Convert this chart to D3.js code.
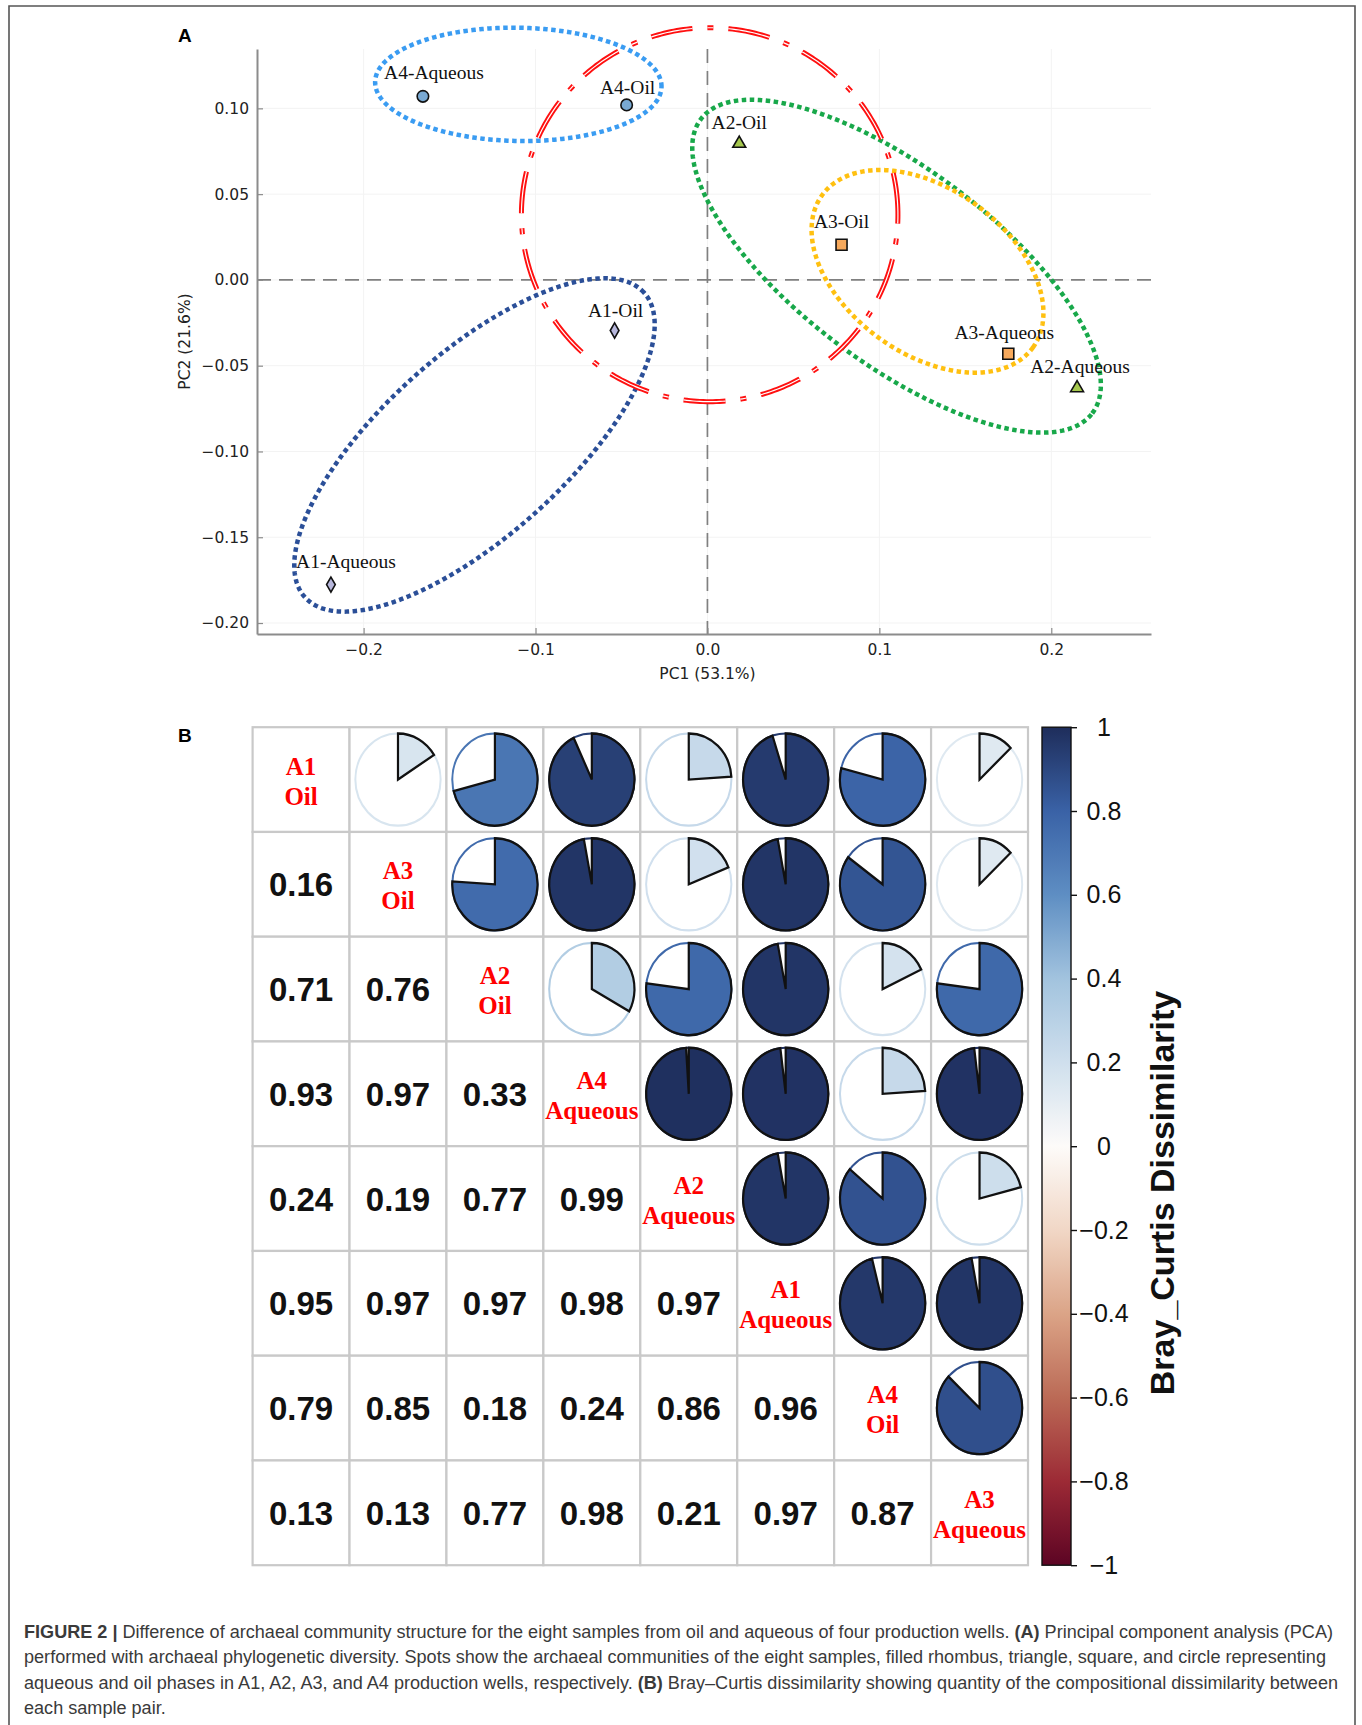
<!DOCTYPE html>
<html>
<head>
<meta charset="utf-8">
<script src="https://cdn.jsdelivr.net/npm/d3@7"></script>
<style>
  html, body { margin: 0; padding: 0; background: #fff; }
  svg { display: block; }
</style>
</head>
<body>
<svg id="fig" width="1362" height="1725"></svg>
<script>
// ---- panel A: PCA scores ----
const sampleNames = ["A1-Aqueous", "A1-Oil", "A2-Aqueous", "A2-Oil", "A3-Aqueous", "A3-Oil", "A4-Aqueous", "A4-Oil"];
const sampleWell  = ["A1", "A1", "A2", "A2", "A3", "A3", "A4", "A4"];
const pc1 = [-0.219, -0.054, 0.215, 0.0185, 0.175, 0.078, -0.1655, -0.047];
const pc2 = [-0.1776, -0.0295, -0.063, 0.0795, -0.043, 0.0205, 0.107, 0.102];

// confidence ellipses (data units, angle in degrees)
const ellipseGroup = ["A1", "A2", "A3", "A4", "Oil"];
const ellipseCx    = [-0.1355, 0.110, 0.128, -0.110, 0.0013];
const ellipseCy    = [-0.0962, 0.008, 0.005, 0.114, 0.038];
const ellipseA     = [0.1327, 0.1425, 0.0757, 0.0833, 0.1095];
const ellipseB     = [0.0531, 0.0568, 0.048, 0.0330, 0.1090];
const ellipseAngle = [42, -37, -36, -1, 0];

const xTicks = [-0.2, -0.1, 0.0, 0.1, 0.2];
const yTicks = [-0.20, -0.15, -0.10, -0.05, 0.00, 0.05, 0.10];

// ---- panel B: Bray-Curtis dissimilarity ----
const matrixTop    = ["A1", "A3", "A2", "A4", "A2", "A1", "A4", "A3"];
const matrixBottom = ["Oil", "Oil", "Oil", "Aqueous", "Aqueous", "Aqueous", "Oil", "Aqueous"];
const brayCurtis = [
  [],
  [0.16],
  [0.71, 0.76],
  [0.93, 0.97, 0.33],
  [0.24, 0.19, 0.77, 0.99],
  [0.95, 0.97, 0.97, 0.98, 0.97],
  [0.79, 0.85, 0.18, 0.24, 0.86, 0.96],
  [0.13, 0.13, 0.77, 0.98, 0.21, 0.97, 0.87]
];
const colorbarTicks = [-1, -0.8, -0.6, -0.4, -0.2, 0, 0.2, 0.4, 0.6, 0.8, 1];

const captionLines = [
  [["FIGURE 2 |", true], [" Difference of archaeal community structure for the eight samples from oil and aqueous of four production wells. ", false], ["(A)", true], [" Principal component analysis (PCA)", false]],
  [["performed with archaeal phylogenetic diversity. Spots show the archaeal communities of the eight samples, filled rhombus, triangle, square, and circle representing", false]],
  [["aqueous and oil phases in A1, A2, A3, and A4 production wells, respectively. ", false], ["(B)", true], [" Bray\u2013Curtis dissimilarity showing quantity of the compositional dissimilarity between", false]],
  [["each sample pair.", false]]
];

const svg = d3.select("#fig");

// figure frame
svg.append("path")
  .attr("d", "M9,1730 V6 H1355 V1730")
  .attr("fill", "none")
  .attr("stroke", "#555")
  .attr("stroke-width", 1.6);

// ================= Panel A =================
const x = d3.scaleLinear().domain([-0.262, 0.258]).range([257, 1151]);
const y = d3.scaleLinear().domain([-0.2064, 0.1346]).range([634, 49]);

svg.append("text")
  .attr("x", 178).attr("y", 42)
  .style("font-family", "'Liberation Sans', Arial, sans-serif")
  .style("font-weight", "bold").style("font-size", "19px")
  .text("A");

const gA = svg.append("g");

// faint grid
gA.selectAll(".hgrid").data(yTicks).enter().append("line")
  .attr("x1", x.range()[0]).attr("x2", x.range()[1])
  .attr("y1", d => y(d)).attr("y2", d => y(d))
  .attr("stroke", "#f3f3f3").attr("stroke-width", 1);
gA.selectAll(".vgrid").data(xTicks).enter().append("line")
  .attr("y1", y.range()[0]).attr("y2", y.range()[1])
  .attr("x1", d => x(d)).attr("x2", d => x(d))
  .attr("stroke", "#f3f3f3").attr("stroke-width", 1);

// zero reference lines
gA.append("line")
  .attr("x1", x.range()[0]).attr("x2", x.range()[1])
  .attr("y1", y(0)).attr("y2", y(0))
  .attr("stroke", "#808080").attr("stroke-width", 1.7)
  .attr("stroke-dasharray", "14,8");
gA.append("line")
  .attr("x1", x(0)).attr("x2", x(0))
  .attr("y1", y.range()[1]).attr("y2", y.range()[0])
  .attr("stroke", "#808080").attr("stroke-width", 1.7)
  .attr("stroke-dasharray", "14,8");

// axes, ticks pointing inward
const axStyle = g => {
  g.select(".domain").attr("stroke", "#8c8c8c").attr("stroke-width", 2);
  g.selectAll(".tick line").attr("stroke", "#8c8c8c").attr("stroke-width", 1.2);
  g.selectAll(".tick text")
    .style("font-family", "'DejaVu Sans', sans-serif")
    .style("font-size", "15.5px").attr("fill", "#222");
};
gA.append("g")
  .attr("transform", `translate(0,${y.range()[0]})`)
  .call(d3.axisBottom(x).tickValues(xTicks).tickFormat(d3.format(".1f"))
    .tickSizeInner(-6).tickSizeOuter(0).tickPadding(10))
  .call(axStyle);
gA.append("g")
  .attr("transform", `translate(${x.range()[0]},0)`)
  .call(d3.axisLeft(y).tickValues(yTicks).tickFormat(d3.format(".2f"))
    .tickSizeInner(-6).tickSizeOuter(0).tickPadding(8))
  .call(axStyle);

gA.append("text")
  .attr("x", x(0)).attr("y", 679)
  .attr("text-anchor", "middle")
  .style("font-family", "'DejaVu Sans', sans-serif").style("font-size", "15.5px")
  .attr("fill", "#222")
  .text("PC1 (53.1%)");
gA.append("text")
  .attr("transform", `translate(190,${(y.range()[0] + y.range()[1]) / 2}) rotate(-90)`)
  .attr("text-anchor", "middle")
  .style("font-family", "'DejaVu Sans', sans-serif").style("font-size", "15.5px")
  .attr("fill", "#222")
  .text("PC2 (21.6%)");

// ellipses
const ellipseColor = { A1: "#2b4f98", A2: "#18a84a", A3: "#ffc010", A4: "#3a9cf2", Oil: "#ff1010" };
const ellipsePoints = i => {
  const th = ellipseAngle[i] * Math.PI / 180;
  const c = Math.cos(th), s = Math.sin(th);
  return d3.range(0, 360, 1).map(deg => {
    const t = deg * Math.PI / 180;
    const u = ellipseA[i] * Math.cos(t), v = ellipseB[i] * Math.sin(t);
    return [ellipseCx[i] + u * c - v * s, ellipseCy[i] + u * s + v * c];
  });
};
const ellLine = d3.line().x(d => x(d[0])).y(d => y(d[1])).curve(d3.curveLinearClosed);

ellipseGroup.forEach((grp, i) => {
  const pts = ellipsePoints(i);
  if (grp === "Oil") {
    // dash-dot double line
    gA.append("path").attr("d", ellLine(pts))
      .attr("fill", "none").attr("stroke", ellipseColor[grp])
      .attr("stroke-width", 5).attr("stroke-dasharray", "42,15,6,15");
    gA.append("path").attr("d", ellLine(pts))
      .attr("fill", "none").attr("stroke", "#fff")
      .attr("stroke-width", 1.2).attr("stroke-dasharray", "42,15,6,15");
  } else {
    gA.append("path").attr("d", ellLine(pts))
      .attr("fill", "none").attr("stroke", ellipseColor[grp])
      .attr("stroke-width", 4.5).attr("stroke-dasharray", "4.5,3.5");
  }
});

// sample markers
const markerShape = { A1: d3.symbolDiamond, A2: d3.symbolTriangle, A3: d3.symbolSquare, A4: d3.symbolCircle };
const markerSize  = { A1: 66, A2: 72, A3: 121, A4: 104 };
const markerFill  = { A1: "#b7b7dc", A2: "#a6c84e", A3: "#f7a95c", A4: "#79a9d3" };
const labelNudge  = {
  "A4-Aqueous": [11, 0], "A1-Aqueous": [15, 0], "A3-Aqueous": [-4, 2],
  "A2-Aqueous": [3, 2], "A4-Oil": [1, 6], "A1-Oil": [1, 3], "A2-Oil": [0, 2]
};

gA.selectAll(".pt").data(sampleNames).enter().append("path")
  .attr("transform", (d, i) => `translate(${x(pc1[i])},${y(pc2[i])})`)
  .attr("d", (d, i) => d3.symbol().type(markerShape[sampleWell[i]]).size(markerSize[sampleWell[i]])())
  .attr("fill", (d, i) => markerFill[sampleWell[i]])
  .attr("stroke", "#111").attr("stroke-width", 1.6);

gA.selectAll(".lbl").data(sampleNames).enter().append("text")
  .attr("x", (d, i) => x(pc1[i]) + (labelNudge[d] ? labelNudge[d][0] : 0))
  .attr("y", (d, i) => y(pc2[i]) - 17 + (labelNudge[d] ? labelNudge[d][1] : 0))
  .attr("text-anchor", "middle")
  .style("font-family", "'Liberation Serif', 'Times New Roman', serif")
  .style("font-size", "19.5px").attr("fill", "#111")
  .text(d => d);

// ================= Panel B =================
svg.append("text")
  .attr("x", 178).attr("y", 742)
  .style("font-family", "'Liberation Sans', Arial, sans-serif")
  .style("font-weight", "bold").style("font-size", "19px")
  .text("B");

const n = matrixTop.length;
const cx = d3.scaleBand().domain(d3.range(n)).range([252.6, 1028]);
const cy = d3.scaleBand().domain(d3.range(n)).range([727.2, 1565.2]);
const cw = cx.bandwidth(), ch = cy.bandwidth();

const color = d3.scaleLinear()
  .domain(colorbarTicks)
  .range(["#5c0424", "#9c2a35", "#bb6a56", "#dba487", "#f1d7c6", "#fdfbf9",
          "#cfdfed", "#a2c3de", "#5e8ec3", "#3a62a6", "#1e2d5b"])
  .interpolate(d3.interpolateRgb);

const value = (r, c) => r > c ? brayCurtis[r][c] : brayCurtis[c][r];
const cells = [];
for (let r = 0; r < n; r++) for (let c = 0; c < n; c++) cells.push({ r, c });

const gB = svg.append("g");

gB.selectAll(".cell").data(cells).enter().append("rect")
  .attr("x", d => cx(d.c)).attr("y", d => cy(d.r))
  .attr("width", cw).attr("height", ch)
  .attr("fill", "#fff").attr("stroke", "#c9c9c9").attr("stroke-width", 2.2);

// lower triangle: numbers
gB.selectAll(".num").data(cells.filter(d => d.r > d.c)).enter().append("text")
  .attr("x", d => cx(d.c) + cw / 2)
  .attr("y", d => cy(d.r) + ch / 2 + 12)
  .attr("text-anchor", "middle")
  .style("font-family", "'Liberation Sans', Arial, Helvetica, sans-serif")
  .style("font-weight", "bold").style("font-size", "33px")
  .attr("fill", "#111")
  .text(d => d3.format(".2f")(value(d.r, d.c)));

// diagonal names
const diag = gB.selectAll(".diag").data(d3.range(n)).enter().append("text")
  .attr("text-anchor", "middle")
  .style("font-family", "'Liberation Serif', 'Times New Roman', serif")
  .style("font-weight", "bold").style("font-size", "25px")
  .attr("fill", "#ff0000");
diag.append("tspan")
  .attr("x", i => cx(i) + cw / 2).attr("y", i => cy(i) + ch / 2 - 5)
  .text(i => matrixTop[i]);
diag.append("tspan")
  .attr("x", i => cx(i) + cw / 2).attr("y", i => cy(i) + ch / 2 + 25)
  .text(i => matrixBottom[i]);

// upper triangle: pies
const rx = 0.44 * cw, ry = 0.44 * ch;
const pieCells = cells.filter(d => d.r < d.c);
const pies = gB.selectAll(".pie").data(pieCells).enter().append("g")
  .attr("transform", d => `translate(${cx(d.c) + cw / 2},${cy(d.r) + ch / 2}) scale(1,${ry / rx})`);
pies.append("circle")
  .attr("r", rx).attr("fill", "#fff")
  .attr("stroke", d => color(value(d.r, d.c)))
  .attr("stroke-width", 2);
pies.append("path")
  .attr("d", d => d3.arc().innerRadius(0).outerRadius(rx)
    .startAngle(0).endAngle(2 * Math.PI * value(d.r, d.c))())
  .attr("fill", d => color(value(d.r, d.c)))
  .attr("stroke", "#111").attr("stroke-width", 2.2)
  .attr("stroke-linejoin", "miter");

// colorbar
const cb = d3.scaleLinear().domain([-1, 1]).range([1565.2, 727.2]);
const cbX = 1042, cbW = 29;
const grad = svg.append("defs").append("linearGradient")
  .attr("id", "cbgrad").attr("x1", 0).attr("y1", 1).attr("x2", 0).attr("y2", 0);
grad.selectAll("stop").data(d3.range(0, 1.0001, 0.02)).enter().append("stop")
  .attr("offset", d => d)
  .attr("stop-color", d => color(-1 + 2 * d));
svg.append("rect")
  .attr("x", cbX).attr("y", cb(1)).attr("width", cbW).attr("height", cb(-1) - cb(1))
  .attr("fill", "url(#cbgrad)").attr("stroke", "#111").attr("stroke-width", 1.4);

const cbAxis = svg.append("g")
  .attr("transform", `translate(${cbX + cbW},0)`)
  .call(d3.axisRight(cb).tickValues(colorbarTicks).tickFormat(d3.format("~g"))
    .tickSizeInner(6).tickSizeOuter(0));
cbAxis.select(".domain").remove();
cbAxis.selectAll(".tick line").attr("stroke", "#111").attr("stroke-width", 1.4);
cbAxis.selectAll(".tick text")
  .attr("x", 33).attr("text-anchor", "middle")
  .style("font-family", "'Liberation Sans', Arial, Helvetica, sans-serif")
  .style("font-size", "25px").attr("fill", "#111");

svg.append("text")
  .attr("transform", "translate(1174,1193) rotate(-90)")
  .attr("text-anchor", "middle")
  .style("font-family", "'Liberation Sans', Arial, Helvetica, sans-serif")
  .style("font-weight", "bold").style("font-size", "34px")
  .attr("fill", "#111")
  .text("Bray_Curtis Dissimilarity");

// ================= Caption =================
const capY = [1638, 1663, 1689, 1714];
const cap = svg.append("g")
  .style("font-family", "'Liberation Sans', Arial, Helvetica, sans-serif")
  .style("font-size", "16.5px")
  .attr("fill", "#3a3a3a");
captionLines.forEach((parts, li) => {
  const t = cap.append("text").attr("x", 24).attr("y", capY[li]).attr("xml:space", "preserve");
  parts.forEach(([s, b]) => {
    t.append("tspan").style("font-weight", b ? "bold" : "normal").text(s);
  });
});
// fit caption width to the reference line length
const ref = cap.selectAll("text").nodes()[2];
const w = ref.getComputedTextLength();
cap.style("font-size", (16.5 * 1314 / w).toFixed(2) + "px");
</script>
</body>
</html>
